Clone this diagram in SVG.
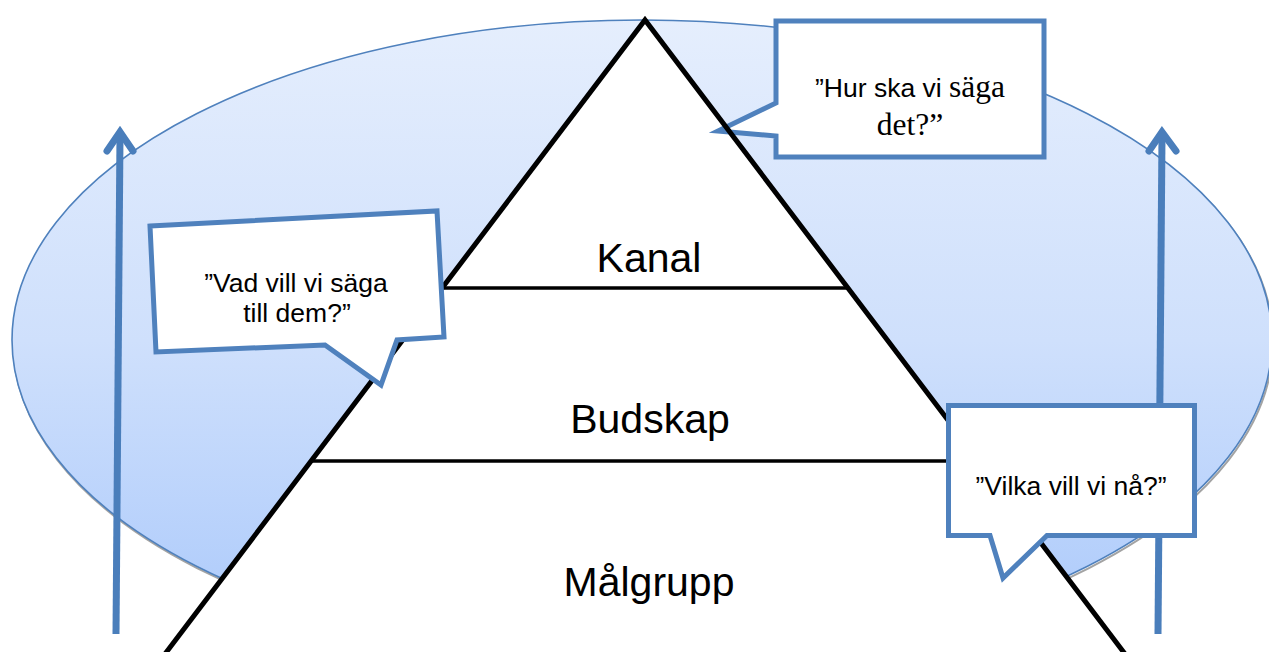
<svg xmlns="http://www.w3.org/2000/svg" width="1269" height="652" viewBox="0 0 1269 652">
  <defs>
    <linearGradient id="skyFill" x1="0" y1="0" x2="0" y2="1">
      <stop offset="0" stop-color="#e5eefd"/>
      <stop offset="0.5" stop-color="#cfe0fc"/>
      <stop offset="1" stop-color="#a9c8fb"/>
    </linearGradient>
  </defs>
  <style>
    .edge { fill: none; stroke: #000; stroke-width: 5; stroke-linejoin: miter; }
    .tier { fill: none; stroke: #000; stroke-width: 3.5; }
    .label { font-family: "Liberation Sans", Arial, sans-serif; font-size: 41px; fill: #000; text-anchor: middle; }
    .bubble { fill: #fff; stroke: #4f81bd; stroke-width: 5; stroke-linejoin: miter; }
    .btext { font-family: "Liberation Sans", Arial, sans-serif; font-size: 26.5px; fill: #000; text-anchor: middle; }
    .btext .serif, .btext.serif { font-family: "Liberation Serif", "Times New Roman", serif; font-size: 31.5px; }
    .shaft { stroke: #4a7ebb; stroke-width: 7; fill: none; }
    .head { stroke: #4a7ebb; stroke-width: 7; fill: none; stroke-linecap: round; stroke-linejoin: miter; }
  </style>

  <!-- background field -->
  <g id="field">
    <ellipse cx="643" cy="342" rx="630" ry="320" fill="none" stroke="#8c8c8c" stroke-width="2" opacity="0.8"/>
    <ellipse cx="642" cy="340" rx="630" ry="320" fill="url(#skyFill)" stroke="#4f81bd" stroke-width="1.6"/>
  </g>

  <!-- pyramid -->
  <g id="pyramid">
    <polygon points="645,20 115,720 1175,720" fill="#fff" stroke="none"/>
  </g>

  <!-- upper callout -->
  <g id="callout-hur">
    <path class="bubble" d="M776,21 L1044,21 L1044,157 L776,157 L776,136 L718,131 L776,103 Z"/>
    <text class="btext" x="910" y="97"><tspan>”Hur ska vi </tspan><tspan class="serif" font-family="Liberation Serif, Times New Roman, serif">säga</tspan></text>
    <text class="btext serif" x="910" y="135" font-family="Liberation Serif, Times New Roman, serif">det?”</text>
  </g>

  <g id="pyramid-lines">
    <polyline class="edge" points="115,720 645,20 1175,720"/>
    <line class="tier" x1="442" y1="288" x2="848" y2="288"/>
    <line class="tier" x1="311" y1="461" x2="979" y2="461"/>
  </g>

  <g id="tier-kanal"><text class="label" x="649" y="272">Kanal</text></g>
  <g id="tier-budskap"><text class="label" x="650" y="433">Budskap</text></g>
  <g id="tier-malgrupp"><text class="label" x="649" y="596">Målgrupp</text></g>

  <!-- rising arrows -->
  <g id="connectors">
    <line class="shaft" x1="116" y1="634" x2="120" y2="135"/>
    <polyline class="head" points="107,151 120,132 133,151"/>
    <line class="shaft" x1="1158" y1="634" x2="1162" y2="135"/>
    <polyline class="head" points="1149,151 1162,132 1176,151"/>
  </g>

  <!-- left callout -->
  <g id="callout-vad">
    <path class="bubble" d="M150,226 L437,211 L444,337 L397,340 L381,385 L325,345 L156,352 Z"/>
    <text class="btext" x="296" y="292">”Vad vill vi säga</text>
    <text class="btext" x="297" y="322">till dem?”</text>
  </g>

  <!-- right callout -->
  <g id="callout-vilka">
    <path class="bubble" d="M948.5,405.5 L1194.5,405.5 L1194.5,535.5 L1047,535.5 L1003,578 L990,535.5 L948.5,535.5 Z"/>
    <text class="btext" x="1071" y="495">”Vilka vill vi nå?”</text>
  </g>
</svg>
